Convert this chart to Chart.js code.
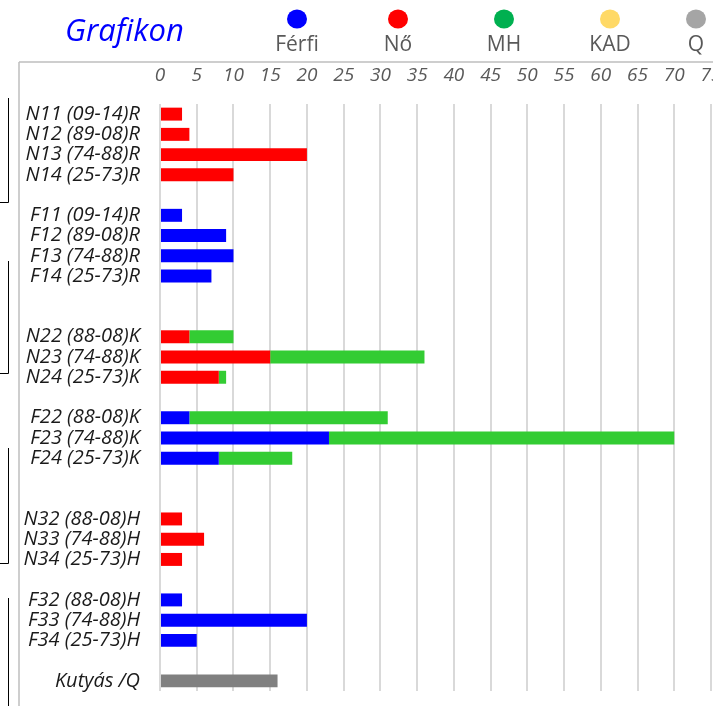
<!DOCTYPE html>
<html>
<head>
<meta charset="utf-8">
<script src="https://cdn.jsdelivr.net/npm/chart.js@4"></script>
<style>
    body { margin: 0; overflow: hidden; background: #fff; }
    #wrap { width: 740px; height: 706px; }
</style>
</head>
<body>
<div id="wrap"><canvas id="grafikon" width="740" height="706"></canvas></div>
<script>
// Chart data
const categories = [
    'N11 (09-14)R', 'N12 (89-08)R', 'N13 (74-88)R', 'N14 (25-73)R', '',
    'F11 (09-14)R', 'F12 (89-08)R', 'F13 (74-88)R', 'F14 (25-73)R', '', '',
    'N22 (88-08)K', 'N23 (74-88)K', 'N24 (25-73)K', '',
    'F22 (88-08)K', 'F23 (74-88)K', 'F24 (25-73)K', '', '',
    'N32 (88-08)H', 'N33 (74-88)H', 'N34 (25-73)H', '',
    'F32 (88-08)H', 'F33 (74-88)H', 'F34 (25-73)H', '',
    'Kutyás /Q'
];
const ferfiValues = [null, null, null, null, null, 3, 9, 10, 7, null, null, null, null, null, null, 4, 23, 8, null, null, null, null, null, null, 3, 20, 5, null, null];
const noValues    = [3, 4, 20, 10, null, null, null, null, null, null, null, 4, 15, 8, null, null, null, null, null, null, 3, 6, 3, null, null, null, null, null, null];
const mhValues    = [null, null, null, null, null, null, null, null, null, null, null, 6, 21, 1, null, 27, 47, 10, null, null, null, null, null, null, null, null, null, null, null];
const kadValues   = [];
const qValues     = [null, null, null, null, null, null, null, null, null, null, null, null, null, null, null, null, null, null, null, null, null, null, null, null, null, null, null, null, 16];
const xTicks = [0, 5, 10, 15, 20, 25, 30, 35, 40, 45, 50, 55, 60, 65, 70, 75];

const legendNames = ['Férfi', 'Nő', 'MH', 'KAD', 'Q'];
const legendColors = ['#0000ff', '#ff0000', '#00b050', '#ffd966', '#a5a5a5'];

// Title, legend and frame lines
const decorPlugin = {
    id: 'decor',
    afterDraw(chart) {
        const ctx = chart.ctx;
        ctx.save();

        ctx.fillStyle = '#0000ff';
        ctx.font = 'italic 31px "Open Sans"';
        ctx.textAlign = 'left';
        ctx.textBaseline = 'middle';
        ctx.fillText('Grafikon', 65, 32);

        const legendX = [297, 398, 504, 610, 696];
        legendNames.forEach((name, i) => {
            ctx.fillStyle = legendColors[i];
            ctx.beginPath();
            ctx.ellipse(legendX[i], 19, 10, 9.5, 0, 0, Math.PI * 2);
            ctx.fill();
            ctx.fillStyle = '#595959';
            ctx.font = '21px "Open Sans"';
            ctx.textAlign = 'center';
            ctx.fillText(name, legendX[i], 45);
        });

        // frame
        ctx.strokeStyle = '#bfbfbf';
        ctx.lineWidth = 1.5;
        ctx.beginPath();
        ctx.moveTo(19, 62);
        ctx.lineTo(740, 62);
        ctx.moveTo(19, 62);
        ctx.lineTo(19, 706);
        ctx.stroke();

        // brackets at the left edge
        ctx.strokeStyle = '#000';
        ctx.lineWidth = 1;
        ctx.beginPath();
        [[98, 202], [261, 373], [448, 563]].forEach(([a, b]) => {
            ctx.moveTo(8.5, a);
            ctx.lineTo(8.5, b + 0.5);
            ctx.lineTo(0, b + 0.5);
        });
        ctx.moveTo(8.5, 598);
        ctx.lineTo(8.5, 706);
        ctx.stroke();

        ctx.restore();
    }
};

new Chart(document.getElementById('grafikon').getContext('2d'), {
    type: 'bar',
    data: {
        labels: categories,
        datasets: [{
            label: 'Férfi',
            data: ferfiValues,
            backgroundColor: '#0000ff'
        }, {
            label: 'Nő',
            data: noValues,
            backgroundColor: '#ff0000'
        }, {
            label: 'MH',
            data: mhValues,
            backgroundColor: '#33cc33'
        }, {
            label: 'KAD',
            data: kadValues,
            backgroundColor: '#ffd966'
        }, {
            label: 'Q',
            data: qValues,
            backgroundColor: '#808080'
        }]
    },
    options: {
        indexAxis: 'y',
        responsive: false,
        animation: false,
        layout: {
            padding: { left: 0, top: 62, right: 29, bottom: 15 }
        },
        datasets: {
            bar: {
                barPercentage: 0.64,
                categoryPercentage: 1
            }
        },
        plugins: {
            legend: { display: false },
            tooltip: { enabled: false }
        },
        scales: {
            x: {
                position: 'top',
                stacked: true,
                min: 0,
                max: 75,
                afterFit: scale => { scale.height = 42; },
                afterBuildTicks: scale => {
                    scale.ticks = xTicks.map(v => ({ value: v }));
                },
                border: { display: false },
                grid: {
                    color: '#d9d9d9',
                    lineWidth: 2,
                    drawTicks: false
                },
                ticks: {
                    padding: 17,
                    color: '#595959',
                    font: { family: 'Open Sans', size: 19, style: 'italic' }
                }
            },
            y: {
                stacked: true,
                afterFit: scale => {
                    scale.width = 160;
                    scale.paddingTop = 0;
                    scale.paddingBottom = 0;
                },
                border: { display: false },
                grid: { display: false },
                ticks: {
                    padding: 12,
                    color: '#1a1a1a',
                    autoSkip: false,
                    font: { family: 'Open Sans', size: 20, style: 'italic' }
                }
            }
        }
    },
    plugins: [decorPlugin]
});
</script>
</body>
</html>
